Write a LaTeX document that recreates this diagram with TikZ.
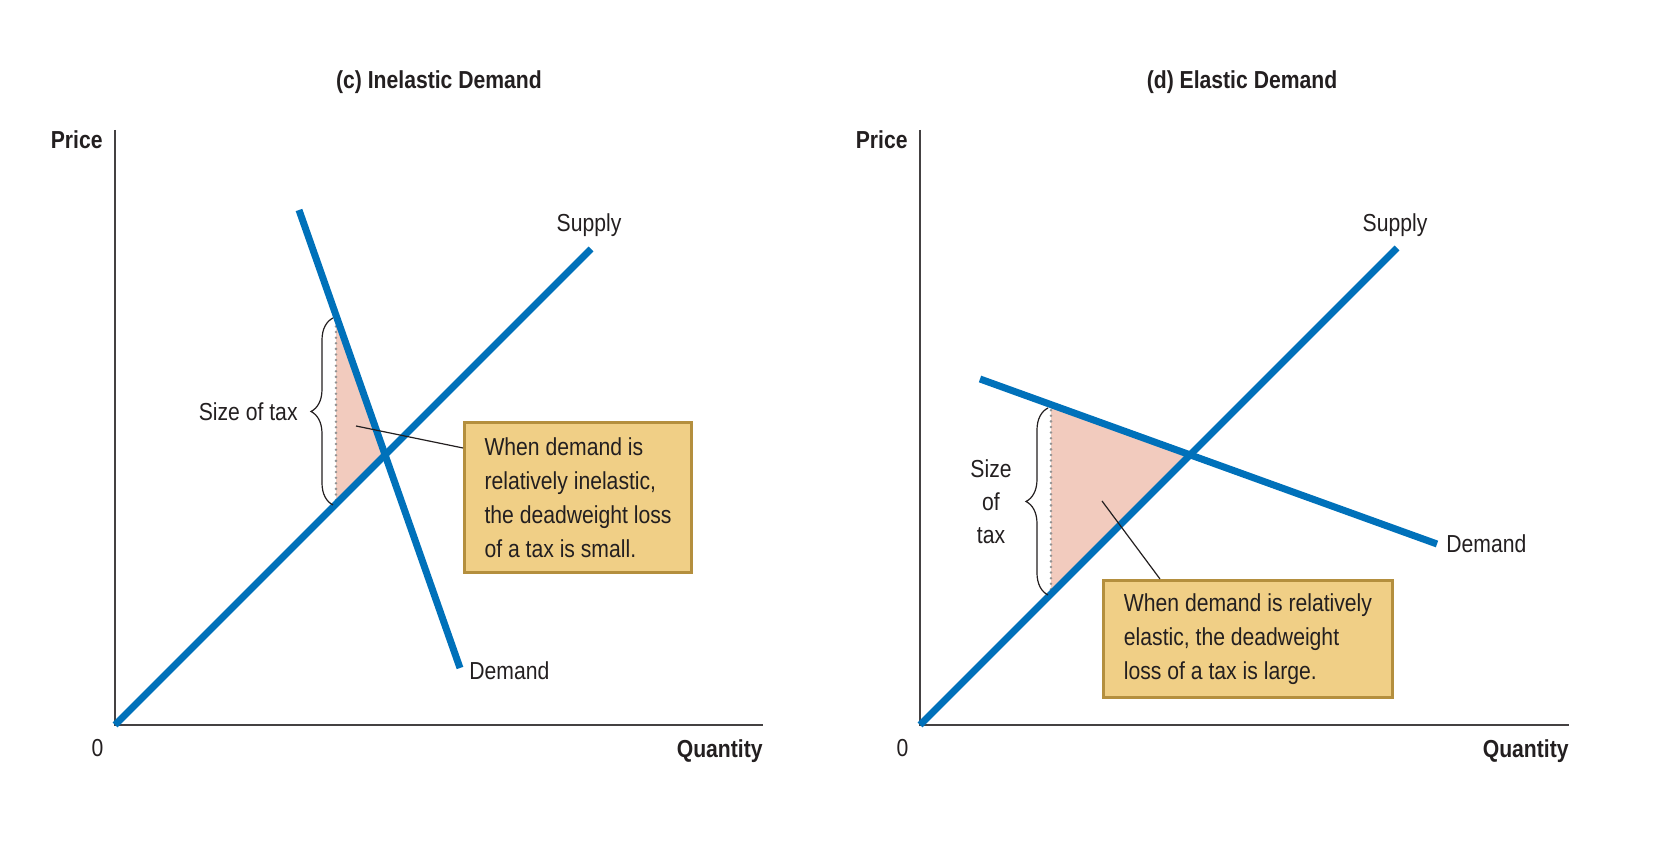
\documentclass[tikz,border=0pt]{standalone}
\usepackage{fontspec}
\setmainfont[FakeStretch=0.86]{Liberation Sans}
\usetikzlibrary{decorations.pathreplacing,positioning}

\definecolor{curveblue}{HTML}{0071BA}
\definecolor{dwlpink}{HTML}{F2CBBE}
\definecolor{notefill}{HTML}{F0CF86}
\definecolor{noteedge}{HTML}{B48F3E}
\definecolor{ink}{HTML}{231F20}

\tikzset{
    curve/.style={curveblue, line width=3.5pt},
    axis/.style={ink!85, line width=0.75pt},
    lbl/.style={text=ink, font=\fontsize{12.3}{17}\selectfont, inner sep=2pt},
    boldlbl/.style={lbl, font=\fontsize{12.3}{17}\selectfont\bfseries},
    notebox/.style={lbl, fill=notefill, draw=noteedge, line width=1.5pt, align=left},
    taxdots/.style={gray!85, line width=1.4pt, dash pattern=on 0pt off 2.8pt, line cap=round},
    taxbrace/.style={decorate, decoration={brace, amplitude=11pt}, ink, line width=0.6pt},
    pointer/.style={ink, line width=0.6pt},
}

\begin{document}
\begin{tikzpicture}[x=50pt, y=50pt]
    \useasboundingbox (0,0) rectangle (16.62,8.45);

    % (c) inelastic demand
    \begin{scope}[shift={(1.15,1.20)}]
        \coordinate (O) at (0,0);
        \draw[axis] (0,5.95) -- (O) -- (6.48,0);
        \node[boldlbl, anchor=north east] (price) at (-0.08,5.99) {Price};
        \node[lbl, anchor=north] (zero) at (-0.175,-0.10) {0};
        \node[boldlbl, anchor=north east] (qty) at (6.52,-0.10) {Quantity};
        \node[boldlbl] (title) at (3.24,6.425) {(c) Inelastic Demand};

        % deadweight loss triangle
        \coordinate (Pb) at (2.21,4.097);
        \coordinate (Ps) at (2.21,2.21);
        \coordinate (E) at (2.70,2.70);
        \fill[dwlpink] (Pb) -- (Ps) -- (E) -- cycle;
        \draw[taxdots] (Pb) -- (Ps);

        \draw[curve] (O) -- (4.76,4.76);
        \draw[curve] (1.84,5.15) -- (3.45,0.57);
        \node[lbl] (supply) at (4.74,5.00) {Supply};
        \node[lbl, anchor=west] (demand) at (3.50,0.54) {Demand};

        \draw[taxbrace] (2.18,2.20) -- (2.18,4.07);
        \node[lbl, anchor=east] (taxsize) at (1.87,3.13) {Size of tax};

        \node[notebox, minimum width=113.5pt, minimum height=75pt] (note) at (4.63,2.275)
            {When demand is\\relatively inelastic,\\the deadweight loss\\of a tax is small.};
        \coordinate (dwl) at (2.41,2.99);
        \draw[pointer] ([yshift=24.75pt]note.west) -- (dwl);
    \end{scope}

    % (d) elastic demand
    \begin{scope}[shift={(9.20,1.20)}]
        \coordinate (O) at (0,0);
        \draw[axis] (0,5.95) -- (O) -- (6.49,0);
        \node[boldlbl, anchor=north east] (price) at (-0.08,5.99) {Price};
        \node[lbl, anchor=north] (zero) at (-0.175,-0.10) {0};
        \node[boldlbl, anchor=north east] (qty) at (6.53,-0.10) {Quantity};
        \node[boldlbl] (title) at (3.22,6.425) {(d) Elastic Demand};

        % deadweight loss triangle
        \coordinate (Pb) at (1.31,3.204);
        \coordinate (Ps) at (1.31,1.31);
        \coordinate (E) at (2.70,2.70);
        \fill[dwlpink] (Pb) -- (Ps) -- (E) -- cycle;
        \draw[taxdots] (Pb) -- (Ps);

        \draw[curve] (O) -- (4.77,4.77);
        \draw[curve] (0.60,3.46) -- (5.17,1.81);
        \node[lbl] (supply) at (4.75,5.00) {Supply};
        \node[lbl, anchor=west] (demand) at (5.22,1.81) {Demand};

        \draw[taxbrace] (1.28,1.30) -- (1.28,3.17);
        \node[lbl, anchor=east, align=center, font=\fontsize{12.3}{16.5}\selectfont] (taxsize) at (0.96,2.235) {Size\\of\\tax};

        \node[notebox, minimum width=144.5pt, minimum height=58.5pt] (note) at (3.28,0.86)
            {When demand is relatively\\elastic, the deadweight\\loss of a tax is large.};
        \coordinate (dwl) at (1.82,2.24);
        \draw[pointer] ([xshift=-44pt]note.north) -- (dwl);
    \end{scope}
\end{tikzpicture}
\end{document}
